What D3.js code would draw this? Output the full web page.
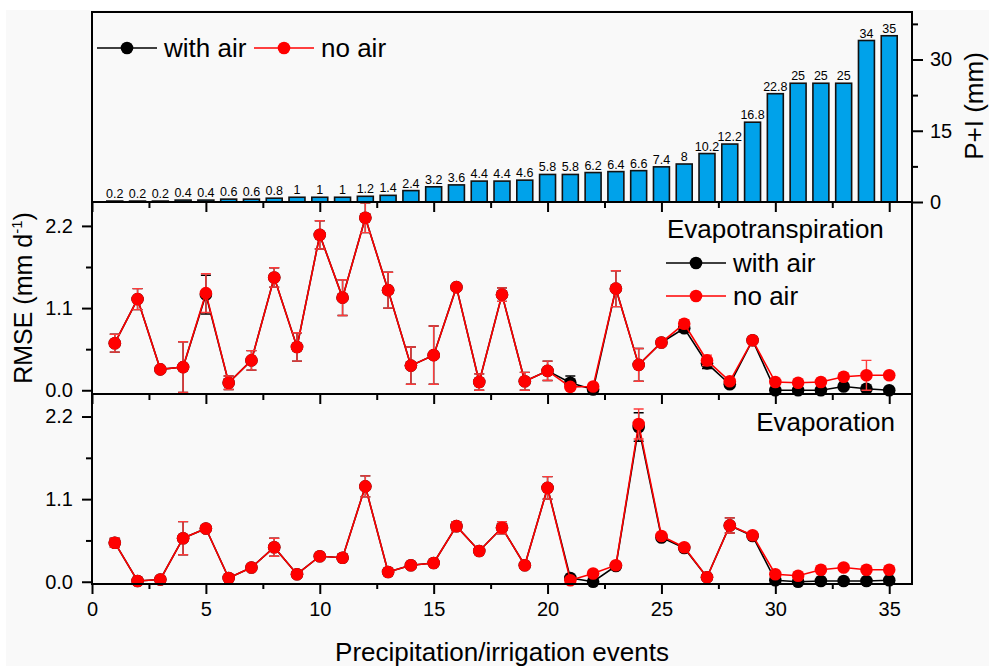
<!DOCTYPE html>
<html><head><meta charset="utf-8">
<script src="https://cdn.jsdelivr.net/npm/d3@7"></script>
<style>body{margin:0;background:#fff}svg{display:block;font-family:"Liberation Sans",Arial,sans-serif}</style>
</head><body>
<svg id="c" width="989" height="666"></svg>
<script>
const events = d3.range(1, 36);
const precip = [0.2,0.2,0.2,0.4,0.4,0.6,0.6,0.8,1,1,1,1.2,1.4,2.4,3.2,3.6,4.4,4.4,4.6,5.8,5.8,6.2,6.4,6.6,7.4,8,10.2,12.2,16.8,22.8,25,25,25,34,35];
const precipLabels = ["0.2","0.2","0.2","0.4","0.4","0.6","0.6","0.8","1","1","1","1.2","1.4","2.4","3.2","3.6","4.4","4.4","4.6","5.8","5.8","6.2","6.4","6.6","7.4","8","10.2","12.2","16.8","22.8","25","25","25","34","35"];

const etNoAir    = [0.63,1.22,0.28,0.31,1.30,0.10,0.40,1.51,0.58,2.08,1.24,2.31,1.34,0.33,0.47,1.38,0.11,1.28,0.12,0.26,0.045,0.05,1.36,0.34,0.64,0.89,0.40,0.12,0.67,0.11,0.10,0.11,0.18,0.20,0.20];
const etNoAirErr = [0.12,0.14,0,0.34,0.26,0.09,0.13,0.13,0.19,0.19,0.24,0.20,0.24,0.25,0.39,0.02,0.11,0.09,0.12,0.13,0.03,0.02,0.24,0.22,0.04,0.05,0.07,0.03,0.04,0.02,0.02,0.02,0.02,0.20,0.02];
const etWithAir    = [0.63,1.22,0.28,0.31,1.28,0.10,0.40,1.51,0.58,2.08,1.24,2.31,1.34,0.33,0.47,1.38,0.11,1.28,0.12,0.26,0.10,0.01,1.36,0.34,0.64,0.83,0.36,0.08,0.67,0.00,0.00,0.00,0.05,0.02,0.00];
const etWithAirErr = [0.12,0.14,0,0.34,0.26,0.09,0.13,0.13,0.19,0.19,0.24,0.20,0.24,0.25,0.39,0.02,0.11,0.09,0.12,0.13,0.09,0.02,0.24,0.22,0.04,0.05,0.07,0.03,0.04,0.01,0.01,0.01,0.01,0,0.01];

const evNoAir    = [0.52,0.01,0.03,0.58,0.71,0.05,0.19,0.46,0.10,0.34,0.32,1.27,0.13,0.22,0.25,0.74,0.41,0.72,0.22,1.25,0.02,0.11,0.22,2.10,0.61,0.46,0.06,0.75,0.62,0.10,0.08,0.16,0.19,0.16,0.16];
const evNoAirErr = [0.06,0,0,0.22,0.05,0,0,0.12,0,0.02,0,0.14,0,0,0.02,0.06,0,0.08,0,0.15,0.02,0,0.02,0.20,0.03,0.02,0.02,0.10,0.02,0,0,0,0,0,0];
const evWithAir    = [0.52,0.01,0.03,0.58,0.71,0.05,0.19,0.46,0.10,0.34,0.32,1.27,0.13,0.22,0.25,0.74,0.41,0.72,0.22,1.25,0.05,0.00,0.21,2.06,0.59,0.45,0.06,0.75,0.61,0.02,0.00,0.01,0.01,0.01,0.02];
const evWithAirErr = [0.06,0,0,0.22,0.05,0,0,0.12,0,0.02,0,0.14,0,0,0.02,0.06,0,0.08,0,0.15,0.02,0,0.02,0.19,0.03,0.02,0.02,0.10,0.02,0,0,0,0,0,0];

const xMajor = [0,5,10,15,20,25,30,35];
const xMinor = [2.5,7.5,12.5,17.5,22.5,27.5,32.5];
const rmseTicks = [0,1.1,2.2];
const rmseMinor = [0.55,1.65];
const piTicks = [0,15,30];
const piMinor = [7.5,22.5,37.5];

const svg = d3.select("#c");
svg.append("rect").attr("x",6).attr("y",10).attr("width",983).attr("height",656).attr("fill","#f9f9f9");

const L = 92, R = 912;
const x = d3.scaleLinear().domain([0,36]).range([L,R]);
const yTop = d3.scaleLinear().domain([0,40]).range([202,12]);
const yMid = d3.scaleLinear().domain([-0.05,2.52]).range([394,202]);
const yBot = d3.scaleLinear().domain([-0.03,2.5]).range([584,394]);

function styleAxis(g, fs){
  g.select(".domain").remove();
  g.selectAll(".tick line").attr("stroke","#000").attr("stroke-width",2);
  g.selectAll("text").attr("font-size",fs).attr("fill","#000").attr("font-family","Liberation Sans, Arial, sans-serif");
}

// ---- Top panel: bars
const bw = x(0.35) - x(0);
svg.append("g").selectAll("rect").data(events).join("rect")
  .attr("x", d => x(d) - bw).attr("width", 2*bw)
  .attr("y", (d,i) => yTop(precip[i])).attr("height", (d,i) => yTop(0) - yTop(precip[i]))
  .attr("fill","#00a2ea").attr("stroke","#111").attr("stroke-width",1.6);
svg.append("g").selectAll("text").data(events).join("text")
  .attr("x", d => x(d)).attr("y", (d,i) => yTop(precip[i]) - 3)
  .attr("text-anchor","middle").attr("font-size",12.5).attr("fill","#000")
  .text((d,i) => precipLabels[i]);

// right axis
let g = svg.append("g").attr("transform",`translate(${R},0)`)
  .call(d3.axisRight(yTop).tickValues(piTicks).tickSize(11).tickPadding(7).tickFormat(d3.format("d")));
styleAxis(g, 20);
g = svg.append("g").attr("transform",`translate(${R},0)`)
  .call(d3.axisRight(yTop).tickValues(piMinor).tickSize(6).tickFormat(""));
styleAxis(g, 20);
svg.append("text").attr("transform","translate(983,106) rotate(-90)").attr("text-anchor","middle")
  .attr("font-size",26).attr("fill","#000").text("P+I (mm)");

// ---- series drawing
function drawPanel(y, withV, withE, noV, noE){
  const line = d3.line().x((d,i)=>x(events[i])).y(d=>y(d));
  const series = [
    {v:withV, e:withE, c:"#000", ec:"#000"},
    {v:noV, e:noE, c:"#ff0000", ec:"#ff3b3b"}
  ];
  series.forEach(s => {
    const gg = svg.append("g");
    gg.append("path").datum(s.v).attr("d", line).attr("fill","none").attr("stroke", s.c).attr("stroke-width",1.6);
    const eb = events.map((d,i)=>({x:d, v:s.v[i], e:s.e[i]})).filter(d=>d.e>0);
    const cw = 5;
    eb.forEach(d => {
      const p = d3.path();
      p.moveTo(x(d.x), y(d.v - d.e)); p.lineTo(x(d.x), y(d.v + d.e));
      p.moveTo(x(d.x)-cw, y(d.v + d.e)); p.lineTo(x(d.x)+cw, y(d.v + d.e));
      p.moveTo(x(d.x)-cw, y(d.v - d.e)); p.lineTo(x(d.x)+cw, y(d.v - d.e));
      gg.append("path").attr("d", p.toString()).attr("stroke", s.ec).attr("stroke-width",1.4).attr("fill","none");
    });
    gg.selectAll("circle").data(s.v).join("circle")
      .attr("cx",(d,i)=>x(events[i])).attr("cy",d=>y(d)).attr("r",6.3).attr("fill",s.c);
  });
}
drawPanel(yMid, etWithAir, etWithAirErr, etNoAir, etNoAirErr);
drawPanel(yBot, evWithAir, evWithAirErr, evNoAir, evNoAirErr);

// ---- axes for middle & bottom
[[yMid,202],[yBot,394]].forEach(([y,top]) => {
  let a = svg.append("g").attr("transform",`translate(${L},0)`)
    .call(d3.axisLeft(y).tickValues(rmseTicks).tickSize(10).tickPadding(9).tickFormat(d3.format(".1f")));
  styleAxis(a, 20);
  a = svg.append("g").attr("transform",`translate(${L},0)`)
    .call(d3.axisLeft(y).tickValues(rmseMinor).tickSize(6).tickFormat(""));
  styleAxis(a, 20);
  a = svg.append("g").attr("transform",`translate(0,${top})`)
    .call(d3.axisBottom(x).tickValues(xMajor).tickSize(10).tickFormat(""));
  styleAxis(a, 20);
  a = svg.append("g").attr("transform",`translate(0,${top})`)
    .call(d3.axisBottom(x).tickValues(xMinor).tickSize(6).tickFormat(""));
  styleAxis(a, 20);
});
g = svg.append("g").attr("transform","translate(0,584)")
  .call(d3.axisBottom(x).tickValues(xMajor).tickSize(10).tickPadding(8).tickFormat(d3.format("d")));
styleAxis(g, 20);
g = svg.append("g").attr("transform","translate(0,584)")
  .call(d3.axisBottom(x).tickValues(xMinor).tickSize(5).tickFormat(""));
styleAxis(g, 20);

// frames
[[12,202],[202,394],[394,584]].forEach(([t,b]) => {
  svg.append("rect").attr("x",L).attr("y",t).attr("width",R-L).attr("height",b-t)
    .attr("fill","none").attr("stroke","#000").attr("stroke-width",2);
});

// titles
svg.append("text").attr("x",(L+R)/2).attr("y",661).attr("text-anchor","middle")
  .attr("font-size",26).attr("fill","#000").text("Precipitation/irrigation events");
const yt = svg.append("text").attr("transform","translate(32,298) rotate(-90)").attr("text-anchor","middle")
  .attr("font-size",25).attr("fill","#000");
yt.append("tspan").text("RMSE (mm d");
yt.append("tspan").attr("font-size",15).attr("dy",-10).text("-1");
yt.append("tspan").attr("dy",10).text(")");

// legends
function legendItem(x1, yy, color, label){
  svg.append("line").attr("x1",x1).attr("x2",x1+60).attr("y1",yy).attr("y2",yy).attr("stroke",color).attr("stroke-width",1.6);
  svg.append("circle").attr("cx",x1+30).attr("cy",yy).attr("r",6.3).attr("fill",color);
  svg.append("text").attr("x",x1+67).attr("y",yy+9).attr("font-size",26).attr("fill","#000").text(label);
}
legendItem(97, 48, "#000", "with air");
legendItem(254, 48, "#ff0000", "no air");
svg.append("text").attr("x",667).attr("y",238).attr("font-size",26).attr("fill","#000").text("Evapotranspiration");
legendItem(666, 263, "#000", "with air");
legendItem(666, 296, "#ff0000", "no air");
svg.append("text").attr("x",895).attr("y",431).attr("text-anchor","end").attr("font-size",26).attr("fill","#000").text("Evaporation");
</script>
</body></html>
